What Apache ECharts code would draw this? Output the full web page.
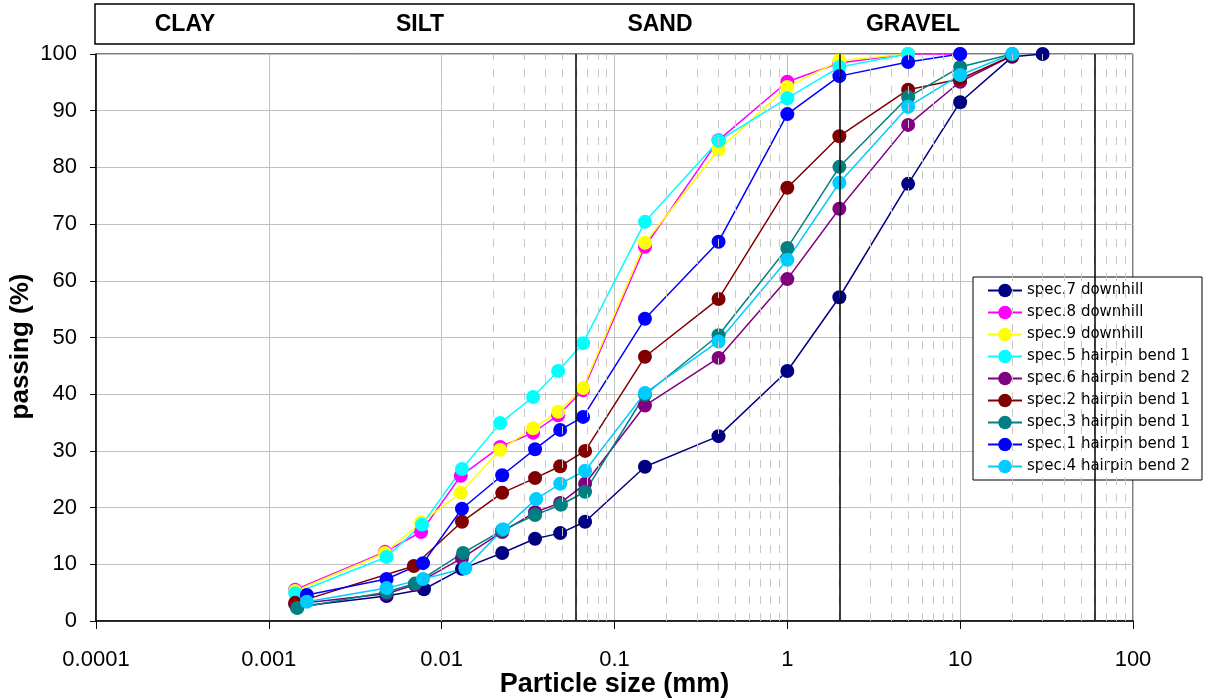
<!DOCTYPE html>
<html>
<head>
<meta charset="utf-8">
<title>Grain size distribution</title>
<script src="https://cdn.jsdelivr.net/npm/echarts@6/dist/echarts.min.js"></script>
<style>
  html, body { margin: 0; padding: 0; background: #fff; }
  #chart { width: 1220px; height: 698px; }
</style>
</head>
<body>
<div id="chart"></div>
<script>
// Particle size (mm) and percentage passing for each specimen
const spec7Size = [0.00145, 0.0048, 0.0079, 0.0131, 0.0224, 0.0347, 0.0485, 0.0676, 0.15, 0.4, 1, 2, 5, 10, 20, 30];
const spec7Pass = [2.5, 4.4, 5.6, 9.2, 12.0, 14.5, 15.5, 17.5, 27.2, 32.6, 44.1, 57.1, 77.1, 91.5, 99.5, 100];

const spec8Size = [0.00142, 0.0047, 0.0076, 0.0129, 0.0218, 0.0338, 0.0472, 0.0658, 0.15, 0.4, 1, 2, 5, 10];
const spec8Pass = [5.5, 12.2, 15.7, 25.6, 30.7, 33.2, 36.3, 40.7, 66.0, 84.8, 95.1, 98.4, 100, 100];

const spec9Size = [0.00142, 0.0047, 0.0076, 0.0129, 0.0218, 0.0338, 0.0472, 0.0658, 0.15, 0.4, 1, 2, 5];
const spec9Pass = [5.3, 12.0, 17.4, 22.6, 30.2, 34.0, 36.9, 41.1, 66.7, 83.1, 94.2, 98.8, 100];

const spec5Size = [0.00142, 0.0048, 0.0077, 0.0131, 0.0218, 0.0338, 0.0472, 0.0658, 0.15, 0.4, 1, 2, 5];
const spec5Pass = [4.9, 11.3, 17.0, 26.8, 34.9, 39.5, 44.1, 49.0, 70.4, 84.7, 92.2, 97.7, 100];

const spec6Size = [0.00142, 0.0048, 0.0070, 0.0131, 0.0224, 0.0347, 0.0485, 0.0676, 0.15, 0.4, 1, 2, 5, 10, 20];
const spec6Pass = [3.0, 4.8, 6.4, 11.1, 15.7, 19.2, 20.8, 24.2, 38.0, 46.4, 60.3, 72.7, 87.5, 95.1, 99.7];

const spec2Size = [0.00142, 0.0069, 0.0131, 0.0224, 0.0347, 0.0485, 0.0676, 0.15, 0.4, 1, 2, 5, 10, 20];
const spec2Pass = [3.2, 9.7, 17.5, 22.6, 25.2, 27.3, 30.0, 46.6, 56.8, 76.4, 85.5, 93.7, 95.6, 99.7];

const spec3Size = [0.00146, 0.0048, 0.0070, 0.0133, 0.0224, 0.0347, 0.0490, 0.0676, 0.15, 0.4, 1, 2, 5, 10, 20];
const spec3Pass = [2.3, 5.1, 6.6, 12.0, 16.0, 18.7, 20.5, 22.8, 39.9, 50.4, 65.8, 80.1, 92.4, 97.7, 100];

const spec1Size = [0.00166, 0.0048, 0.0078, 0.0131, 0.0224, 0.0347, 0.0485, 0.0658, 0.15, 0.4, 1, 2, 5, 10];
const spec1Pass = [4.6, 7.4, 10.2, 19.8, 25.7, 30.3, 33.7, 36.0, 53.3, 66.9, 89.4, 96.1, 98.6, 100];

const spec4Size = [0.00166, 0.0048, 0.0078, 0.0137, 0.0227, 0.0352, 0.0485, 0.0676, 0.15, 0.4, 1, 2, 5, 10, 20];
const spec4Pass = [3.4, 5.8, 7.4, 9.3, 16.2, 21.5, 24.2, 26.5, 40.2, 49.3, 63.7, 77.3, 90.7, 96.3, 100];

// Soil class boundaries (mm): clay/silt, silt/sand, sand/gravel, gravel/cobbles
const classBoundaries = [0.002, 0.06, 2, 60];
const classNames = ['CLAY', 'SILT', 'SAND', 'GRAVEL'];

const yTicks = [0, 10, 20, 30, 40, 50, 60, 70, 80, 90, 100];

const specimens = [
  { name: 'spec.7 downhill',        color: '#000080', size: spec7Size, pass: spec7Pass },
  { name: 'spec.8 downhill',        color: '#FF00FF', size: spec8Size, pass: spec8Pass },
  { name: 'spec.9 downhill',        color: '#FFFF00', size: spec9Size, pass: spec9Pass },
  { name: 'spec.5 hairpin bend 1',  color: '#00FFFF', size: spec5Size, pass: spec5Pass },
  { name: 'spec.6 hairpin bend 2',  color: '#800080', size: spec6Size, pass: spec6Pass },
  { name: 'spec.2 hairpin bend 1',  color: '#800000', size: spec2Size, pass: spec2Pass },
  { name: 'spec.3 hairpin bend 1',  color: '#008080', size: spec3Size, pass: spec3Pass },
  { name: 'spec.1 hairpin bend 1',  color: '#0000FF', size: spec1Size, pass: spec1Pass },
  { name: 'spec.4 hairpin bend 2',  color: '#00CCFF', size: spec4Size, pass: spec4Pass }
];

// Minor log grid lines at 2..9 x 10^k
const minorGrid = [];
for (let k = -4; k <= 1; k++) {
  for (let m = 2; m <= 9; m++) {
    minorGrid.push({ xAxis: +(m * Math.pow(10, k)).toPrecision(3) });
  }
}

const FONT = '"Liberation Sans", Arial, sans-serif';

const chart = echarts.init(document.getElementById('chart'), null, { renderer: 'canvas' });

const dataSeries = specimens.map(s => ({
  name: s.name,
  type: 'line',
  z: 3,
  symbol: 'circle',
  symbolSize: 14,
  color: s.color,
  itemStyle: { color: s.color },
  lineStyle: { color: s.color, width: 1.5 },
  emphasis: { disabled: true },
  data: s.size.map((x, i) => [x, s.pass[i]])
}));

const option = {
  animation: false,
  backgroundColor: '#ffffff',
  grid: {
    left: 96, right: 87, top: 54, bottom: 77,
    containLabel: false,
    outerBoundsMode: 'none',
    show: true, borderColor: '#000', borderWidth: 1, backgroundColor: 'transparent'
  },
  legend: {
    data: specimens.map(s => s.name),
    orient: 'vertical',
    left: 973,
    top: 277,
    backgroundColor: '#fff',
    borderColor: '#000',
    borderWidth: 1,
    borderRadius: 0,
    padding: [5, 12, 5, 14],
    itemWidth: 34,
    itemHeight: 17,
    itemGap: 5,
    selectedMode: false,
    textStyle: { fontFamily: '"DejaVu Sans", Verdana, sans-serif', fontSize: 15, color: '#000', lineHeight: 17 }
  },
  xAxis: {
    type: 'log',
    logBase: 10,
    min: 0.0001,
    max: 100,
    name: 'Particle size (mm)',
    nameLocation: 'middle',
    nameGap: 50,
    nameMoveOverlap: false,
    nameTextStyle: { fontFamily: FONT, fontWeight: 'bold', fontSize: 27, color: '#000' },
    axisLine: { show: true, onZero: false, lineStyle: { color: '#000', width: 1.5 } },
    axisTick: { show: true, length: 8, lineStyle: { color: '#000', width: 1 } },
    axisLabel: {
      margin: 28,
      fontFamily: FONT, fontSize: 22, color: '#000',
      formatter: v => String(+v.toPrecision(6))
    },
    splitLine: { show: true, lineStyle: { color: '#c0c0c0', width: 1 } },
    minorTick: { show: false },
    minorSplitLine: { show: false }
  },
  yAxis: {
    type: 'value',
    min: yTicks[0],
    max: yTicks[yTicks.length - 1],
    interval: 10,
    name: 'passing (%)',
    nameLocation: 'middle',
    nameGap: 62,
    nameMoveOverlap: false,
    nameRotate: 90,
    nameTextStyle: { fontFamily: FONT, fontWeight: 'bold', fontSize: 26, color: '#000', padding: [0, 0, 0, -18] },
    axisLine: { show: true, lineStyle: { color: '#000', width: 1.5 } },
    axisTick: { show: true, length: 6, lineStyle: { color: '#000', width: 1 } },
    axisLabel: { margin: 19, fontFamily: FONT, fontSize: 22, color: '#000' },
    splitLine: { show: true, lineStyle: { color: '#c0c0c0', width: 1 } }
  },
  series: [
    {
      name: 'minor grid',
      type: 'line',
      z: 1,
      silent: true,
      data: [],
      markLine: {
        silent: true,
        symbol: 'none',
        label: { show: false },
        emphasis: { disabled: true },
        lineStyle: { color: '#c8c8c8', width: 1, type: [8, 9] },
        data: minorGrid
      }
    },
    {
      name: 'class boundaries',
      type: 'line',
      z: 2,
      silent: true,
      data: [],
      markLine: {
        silent: true,
        symbol: 'none',
        label: { show: false },
        emphasis: { disabled: true },
        lineStyle: { color: '#000', width: 1.5, type: 'solid' },
        data: classBoundaries.map(v => ({ xAxis: v }))
      }
    },
    ...dataSeries
  ],
  graphic: [
    {
      type: 'rect',
      shape: { x: 95, y: 4, width: 1039, height: 40 },
      style: { fill: '#fff', stroke: '#000', lineWidth: 1.5 },
      silent: true
    },
    ...[185, 420, 660, 913].map((cx, i) => ({
      type: 'text',
      x: cx, y: 25,
      style: {
        text: classNames[i],
        font: 'bold 23px "Liberation Sans", Arial, sans-serif',
        fill: '#000',
        textAlign: 'center',
        textVerticalAlign: 'middle'
      },
      silent: true
    }))
  ]
};

chart.setOption(option);
</script>
</body>
</html>
